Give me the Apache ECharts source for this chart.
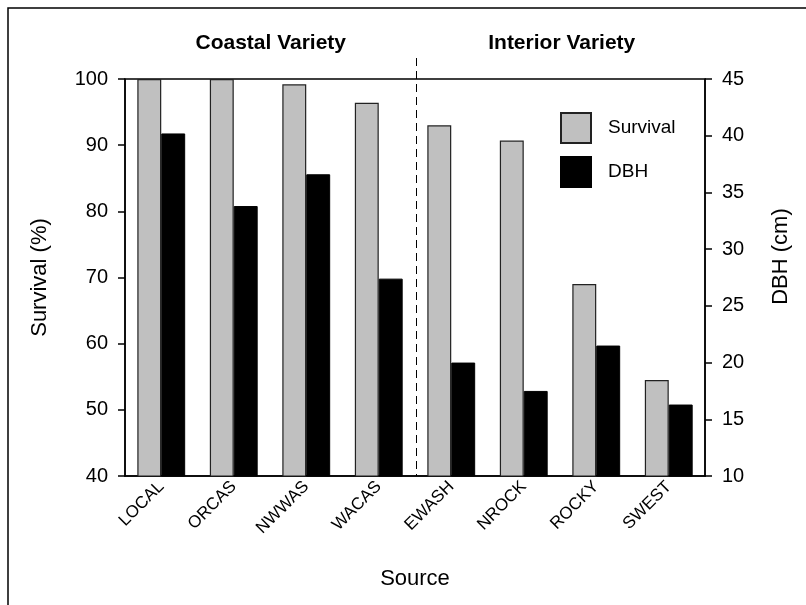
<!DOCTYPE html>
<html>
<head>
<meta charset="utf-8">
<script src="https://cdn.jsdelivr.net/npm/echarts@6/dist/echarts.min.js"></script>
<style>html,body{margin:0;padding:0;background:#fff}#c{width:806px;height:605px}</style>
</head>
<body>
<div id="c"></div>
<script>
const categories = ['LOCAL', 'ORCAS', 'NWWAS', 'WACAS', 'EWASH', 'NROCK', 'ROCKY', 'SWEST'];
const survival = [100, 100, 99.2, 96.4, 93.0, 90.7, 69.0, 54.5];
const dbh = [40.2, 33.8, 36.6, 27.4, 20.0, 17.5, 21.5, 16.3];
const groupLabels = ['Coastal Variety', 'Interior Variety'];

const FONT = '"Liberation Sans", Arial, Helvetica, sans-serif';
const chart = echarts.init(document.getElementById('c'), null, {renderer: 'canvas'});

const axisLine = {show: true, lineStyle: {color: '#000', width: 1.5}};
const option = {
  animation: false,
  textStyle: {fontFamily: FONT, color: '#000'},
  grid: {left: 125, right: 101, top: 79, bottom: 129, show: true, borderColor: '#000', borderWidth: 1.5, containLabel: false},
  legend: {
    orient: 'vertical', left: 560, top: 112, padding: 0, itemWidth: 30, itemHeight: 30, itemGap: 12,
    icon: 'rect',
    textStyle: {fontSize: 19, fontFamily: FONT, color: '#000', padding: [0, 0, 0, 12]},
    data: ['Survival', 'DBH']
  },
  xAxis: {
    type: 'category', data: categories,
    axisLine: axisLine, axisTick: {show: false},
    axisLabel: {rotate: 45, fontSize: 17, fontFamily: FONT, color: '#000', margin: 8, interval: 0},
    name: 'Source', nameLocation: 'middle', nameGap: 92,
    nameTextStyle: {fontSize: 22, fontFamily: FONT, color: '#000'}
  },
  yAxis: [
    {
      type: 'value', min: 40, max: 100, interval: 10, position: 'left',
      axisLine: axisLine, splitLine: {show: false},
      axisTick: {show: true, inside: false, length: 7, lineStyle: {color: '#000', width: 1.5}},
      axisLabel: {fontSize: 20, fontFamily: FONT, color: '#000', margin: 17},
      name: 'Survival (%)', nameLocation: 'middle', nameGap: 74, nameRotate: 90,
      nameTextStyle: {fontSize: 22, fontFamily: FONT, color: '#000'}
    },
    {
      type: 'value', min: 10, max: 45, interval: 5, position: 'right',
      axisLine: axisLine, splitLine: {show: false},
      axisTick: {show: true, inside: false, length: 7, lineStyle: {color: '#000', width: 1.5}},
      axisLabel: {fontSize: 20, fontFamily: FONT, color: '#000', margin: 17},
      name: 'DBH (cm)', nameLocation: 'middle', nameGap: 65, nameRotate: 90,
      nameTextStyle: {fontSize: 22, fontFamily: FONT, color: '#000', padding: [0, 0, 0, 42]}
    }
  ],
  series: [
    {
      name: 'Survival', type: 'bar', yAxisIndex: 0, data: survival,
      barWidth: '33%', barGap: '0%',
      itemStyle: {color: '#c0c0c0', borderColor: '#222', borderWidth: 1.2}
    },
    {
      name: 'DBH', type: 'bar', yAxisIndex: 1, data: dbh,
      barWidth: '33%', barGap: '0%',
      itemStyle: {color: '#000', borderColor: '#000', borderWidth: 1}
    }
  ]
};
chart.setOption(option);

// Group divider and headers placed from the category axis
const leftEdge = chart.convertToPixel({xAxisIndex: 0}, categories[3]);
const rightEdge = chart.convertToPixel({xAxisIndex: 0}, categories[4]);
const divX = Math.round((leftEdge + rightEdge) / 2) + 1.5;
const x0 = chart.convertToPixel({xAxisIndex: 0}, categories[0]);
const x7 = chart.convertToPixel({xAxisIndex: 0}, categories[7]);
const step = (x7 - x0) / 7;
const plotLeft = x0 - step / 2, plotRight = x7 + step / 2;
const yBottom = chart.convertToPixel({yAxisIndex: 0}, 40);

chart.setOption({
  graphic: [
    {type: 'rect', shape: {x: 8, y: 8, width: 810, height: 610}, style: {fill: 'none', stroke: '#000', lineWidth: 1.5}, silent: true},
    {type: 'line', shape: {x1: divX, y1: 58, x2: divX, y2: yBottom}, style: {stroke: '#000', lineWidth: 1, lineDash: [8, 5]}, silent: true},
    {type: 'text', x: (plotLeft + divX) / 2, y: 43, style: {text: groupLabels[0], font: 'bold 21px ' + FONT, fill: '#000', textAlign: 'center', textVerticalAlign: 'middle'}},
    {type: 'text', x: (divX + plotRight) / 2 + 1, y: 43, style: {text: groupLabels[1], font: 'bold 21px ' + FONT, fill: '#000', textAlign: 'center', textVerticalAlign: 'middle'}}
  ]
});
</script>
</body>
</html>
